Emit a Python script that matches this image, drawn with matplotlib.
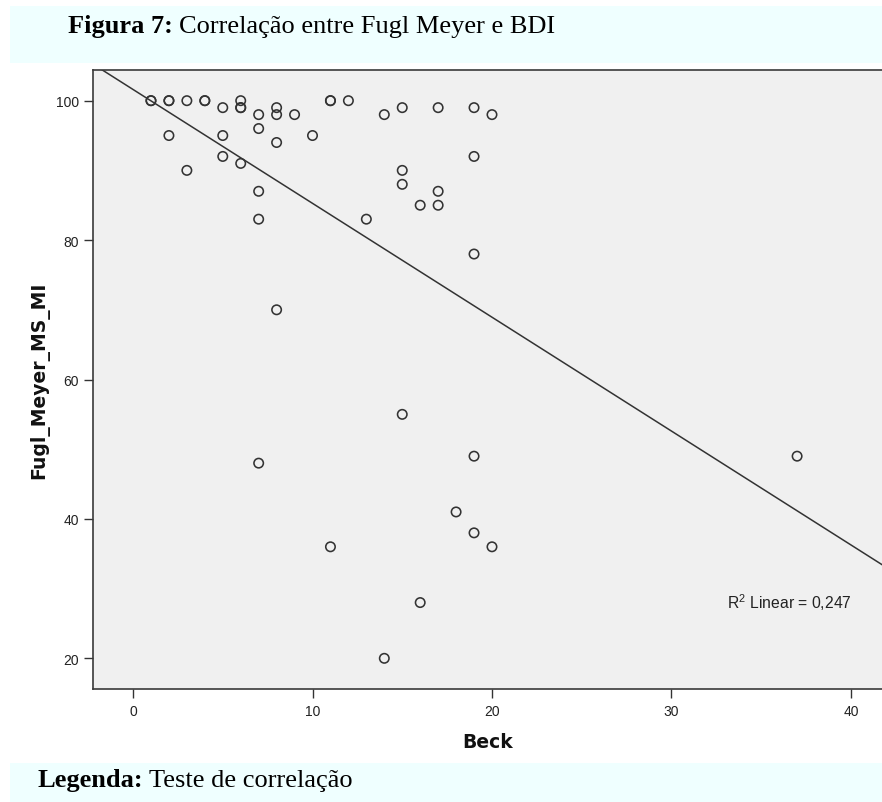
import numpy as np
import matplotlib
matplotlib.use("Agg")
import matplotlib.pyplot as plt
from matplotlib.patches import Rectangle

# ---- data ----
beck = [1, 1, 2, 2, 3, 4, 4, 5, 6, 6, 6, 7, 8, 8, 9, 11, 11, 12, 14, 15, 17, 19, 20,
        2, 5, 7, 8, 10, 5, 6, 3, 7, 7, 13, 19, 15, 15, 17, 16, 17, 19, 8, 15, 7, 19,
        18, 19, 20, 11, 16, 14, 37]
fugl = [100, 100, 100, 100, 100, 100, 100, 99, 100, 99, 99, 98, 99, 98, 98, 100, 100, 100, 98, 99, 99, 99, 98,
        95, 95, 96, 94, 95, 92, 91, 90, 87, 83, 83, 92, 90, 88, 87, 85, 85, 78, 70, 55, 48, 49,
        41, 38, 36, 36, 28, 20, 49]
xticks = [0, 10, 20, 30, 40]
yticks = [20, 40, 60, 80, 100]
r2_label = "0,247"
title_bold = "Figura 7:"
title_rest = "Correlação entre Fugl Meyer e BDI"
legend_bold = "Legenda:"
legend_rest = "Teste de correlação"

plt.rcParams['font.family'] = ['Liberation Sans', 'DejaVu Sans']
plt.rcParams['mathtext.fontset'] = 'custom'
plt.rcParams['mathtext.rm'] = 'Liberation Sans'
plt.rcParams['mathtext.it'] = 'Liberation Sans:italic'
plt.rcParams['mathtext.bf'] = 'Liberation Sans:bold'

W, H = 882, 803
fig = plt.figure(figsize=(W / 100, H / 100), dpi=100)
fig.patch.set_facecolor('white')

def fx(px):
    return px / W

def fy(py):
    return 1 - py / H

cyan = '#efffff'
# top caption band
fig.add_artist(Rectangle((fx(10), fy(64)), 1, (64 - 7) / H, transform=fig.transFigure,
                         facecolor=cyan, edgecolor='none', zorder=0))
# bottom caption band
fig.add_artist(Rectangle((fx(10), 0), 1, (H - 764) / H, transform=fig.transFigure,
                         facecolor=cyan, edgecolor='none', zorder=0))

ax = fig.add_axes([fx(93), fy(690), 1 - fx(93), (690 - 71) / H])
ax.set_facecolor('#f0f0f0')
ax.set_xlim(-2.23, 41.73)
ax.set_ylim(15.6, 104.4)

ax.scatter(beck, fugl, s=46, facecolors='none', edgecolors='#333333', linewidths=1.15, zorder=3)

slope, intercept = np.polyfit(beck, fugl, 1)
xl = np.array(ax.get_xlim())
ax.plot(xl, intercept + slope * xl, color='#333333', lw=1.1, zorder=2)

ax.set_xticks(xticks)
ax.set_yticks(yticks)
ax.tick_params(direction='out', length=6.5, width=1, color='#333333',
               labelsize=10, labelcolor='#222222')
ax.tick_params(axis='y', pad=3.5)
ax.tick_params(axis='x', pad=4)
for side in ['left', 'bottom', 'top']:
    ax.spines[side].set_color('#3a3a3a')
    ax.spines[side].set_linewidth(1.2)
ax.spines['right'].set_visible(False)

label_font = ['DejaVu Sans']
ax.set_xlabel('Beck', fontsize=13.5, fontweight='bold', color='#111111', family=label_font)
ax.xaxis.set_label_coords(0.5, -0.07)
ax.set_ylabel('Fugl_Meyer_MS_MI', fontsize=13.5, fontweight='bold', color='#111111', family=label_font)
ax.yaxis.set_label_coords(-0.055, 0.5)

ax.text(0.8035, 0.131, r'R$^{\mathrm{2}}$ Linear = ' + r2_label, transform=ax.transAxes,
        ha='left', va='baseline', fontsize=11.3, color='#222222')

serif = ['Liberation Serif', 'DejaVu Serif']
renderer = fig.canvas.get_renderer()

def caption(xpx, ypx, bold, rest):
    t1 = fig.text(fx(xpx), fy(ypx), bold, family=serif, fontweight='bold', fontsize=19,
                  ha='left', va='baseline', color='black')
    bb = t1.get_window_extent(renderer=renderer)
    fig.text(bb.x1 / W + fx(6), fy(ypx), rest, family=serif, fontsize=19,
             ha='left', va='baseline', color='black')

caption(68, 33, title_bold, title_rest)
caption(37, 787, legend_bold, legend_rest)

fig.savefig('out.png', dpi=100, facecolor=fig.get_facecolor())
